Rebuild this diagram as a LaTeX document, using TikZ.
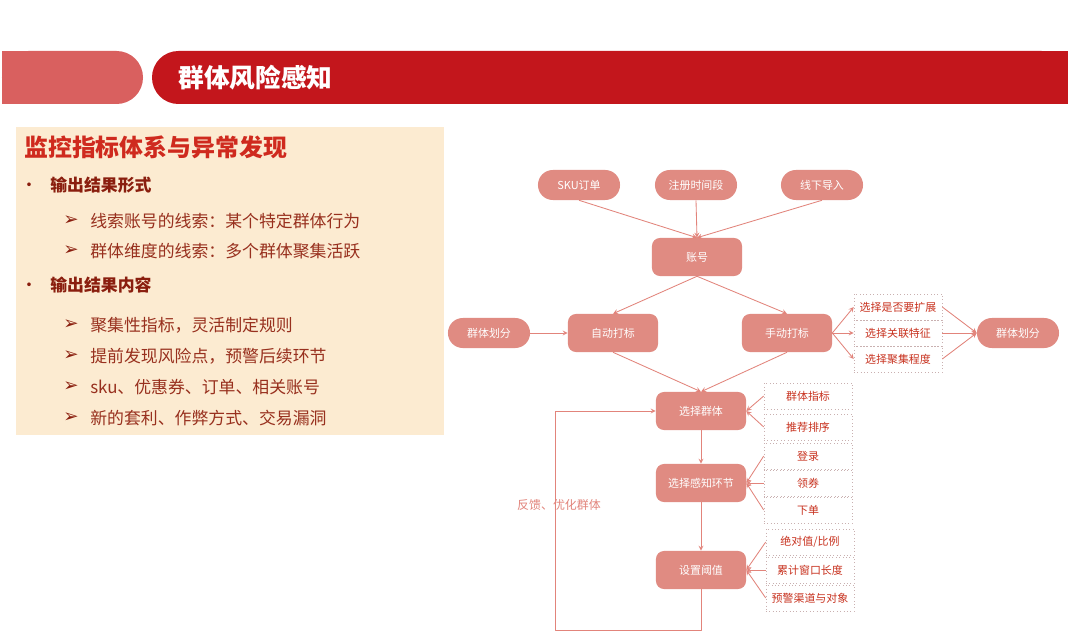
\documentclass[tikz,border=0pt]{standalone}
\usepackage{fontspec}
\setmainfont{Noto Sans CJK SC}
\newfontfamily\symfont{DejaVu Sans}
\usetikzlibrary{arrows}
\definecolor{barred}{HTML}{C3161C}
\definecolor{barlight}{HTML}{D9605F}
\definecolor{boxpeach}{HTML}{FCEBD1}
\definecolor{titlered}{HTML}{CF2A1E}
\definecolor{headbrown}{HTML}{8A1E0E}
\definecolor{itembrown}{HTML}{98301E}
\definecolor{nodered}{HTML}{E08B82}
\definecolor{linered}{HTML}{E2847B}
\definecolor{dotgray}{HTML}{C9B0B0}
\definecolor{dottext}{HTML}{C8321F}
\tikzset{
	flowbox/.style={rectangle,rounded corners=0.2cm,fill=nodered,text=white,minimum width=2.25cm,minimum height=0.95cm,inner sep=0pt,font=\fontsize{7.8}{9}\selectfont},
	pill/.style={rectangle,rounded corners=0.37cm,fill=nodered,text=white,minimum width=2.05cm,minimum height=0.75cm,inner sep=0pt,font=\fontsize{7.8}{9}\selectfont},
	optbox/.style={rectangle,draw=dotgray,dotted,text=dottext,minimum width=2.2cm,minimum height=0.65cm,inner sep=0pt,font=\fontsize{7.8}{9}\selectfont},
	link/.style={draw=linered,line width=0.6pt,->},
	bullethead/.style={anchor=west,inner sep=0pt,text=headbrown,font=\fontsize{12}{14}\selectfont\bfseries},
	item/.style={anchor=west,inner sep=0pt,text=itembrown,font=\fontsize{12}{14}\selectfont},
}
\begin{document}
\begin{tikzpicture}[x=0.025cm,y=-0.025cm,line join=round,>=stealth]
	\useasboundingbox (0,0) rectangle (1068,637);
	\fill[white] (0,0) rectangle (1068,637);
	\fill[barlight,rounded corners=0.66cm] (2,51) rectangle (143,104);
	\fill[barlight] (2,51) rectangle (60,104);
	\fill[barred,rounded corners=0.66cm] (152,51) rectangle (1068,104);
	\fill[barred] (200,51) rectangle (1068,104);
	\node[anchor=west,inner sep=0pt,text=white,font=\fontsize{18.3}{20}\selectfont\bfseries] (head) at (178,78) {群体风险感知};
	\fill[boxpeach] (16,127) rectangle (444,435);
	\node[anchor=west,inner sep=0pt,text=titlered,font=\fontsize{17}{20}\selectfont\bfseries] (lefttitle) at (24,147) {监控指标体系与异常发现};
	\node[inner sep=0pt,text=headbrown,font=\symfont\fontsize{9}{10}\selectfont] (dot1) at (29,186) {•};
	\node[bullethead] (form) at (50,185) {输出结果形式};
	\node[inner sep=0pt,text=headbrown,font=\symfont\fontsize{9}{10}\selectfont] (dot2) at (29,286) {•};
	\node[bullethead] (content) at (50,285) {输出结果内容};
	\foreach \y/\t [count=\i] in {221/线索账号的线索：某个特定群体行为,251/群体维度的线索：多个群体聚集活跃,325/聚集性指标，灵活制定规则,356/提前发现风险点，预警后续环节,387/sku、优惠券、订单、相关账号,418/新的套利、作弊方式、交易漏洞}{
		\node[inner sep=0pt,text=headbrown,font=\symfont\fontsize{13}{14}\selectfont] (arr\i) at (71,\y) {➢};
		\node[item] (item\i) at (90,\y) {\t};
	}
	\node[pill] (sku) at (579,185) {SKU订单};
	\node[pill] (reg) at (696,185) {注册时间段};
	\node[pill] (offline) at (822,185) {线下导入};
	\node[flowbox] (acct) at (697,257) {账号};
	\node[pill] (grpL) at (489,333) {群体划分};
	\node[flowbox] (auto) at (613,333) {自动打标};
	\node[flowbox] (manual) at (787,333) {手动打标};
	\node[optbox] (optA) at (898,307) {选择是否要扩展};
	\node[optbox] (optB) at (898,333) {选择关联特征};
	\node[optbox] (optC) at (898,359) {选择聚集程度};
	\node[pill] (grpR) at (1018,333) {群体划分};
	\node[flowbox] (pick) at (701,411) {选择群体};
	\node[optbox] (metric) at (808,396) {群体指标};
	\node[optbox] (rank) at (808,427) {推荐排序};
	\node[flowbox] (stage) at (701,483) {选择感知环节};
	\node[optbox] (login) at (808,456) {登录};
	\node[optbox] (coupon) at (808,483) {领券};
	\node[optbox] (order) at (808,510) {下单};
	\node[flowbox] (thresh) at (701,570) {设置阈值};
	\node[optbox] (ratio) at (810,542) {绝对值/比例};
	\node[optbox] (window) at (810,570) {累计窗口长度};
	\node[optbox] (alert) at (810,598) {预警渠道与对象};
	\foreach \s in {sku,reg,offline} \draw[link] (\s.south) -- (acct.north);
	\draw[link] (acct.south) -- (auto.north);
	\draw[link] (acct.south) -- (manual.north);
	\draw[link] (grpL.east) -- (auto.west);
	\foreach \o in {optA,optB,optC}{
		\draw[link] (manual.east) -- (\o.west);
		\draw[link] (\o.east) -- (grpR.west);
	}
	\draw[link] (auto.south) -- (pick.north);
	\draw[link] (manual.south) -- (pick.north);
	\foreach \o in {metric,rank} \draw[link] (\o.west) -- (pick.east);
	\foreach \o in {login,coupon,order} \draw[link] (\o.west) -- (stage.east);
	\foreach \o in {ratio,window,alert} \draw[link] (\o.west) -- (thresh.east);
	\draw[link] (pick.south) -- (stage.north);
	\draw[link] (stage.south) -- (thresh.north);
	\coordinate (loopcorner) at (555,630);
	\draw[link] (thresh.south) |- (loopcorner) |- (pick.west);
	\node[inner sep=0pt,text=linered,font=\fontsize{8.5}{10}\selectfont] (feedback) at (559,505) {反馈、优化群体};
\end{tikzpicture}
\end{document}
